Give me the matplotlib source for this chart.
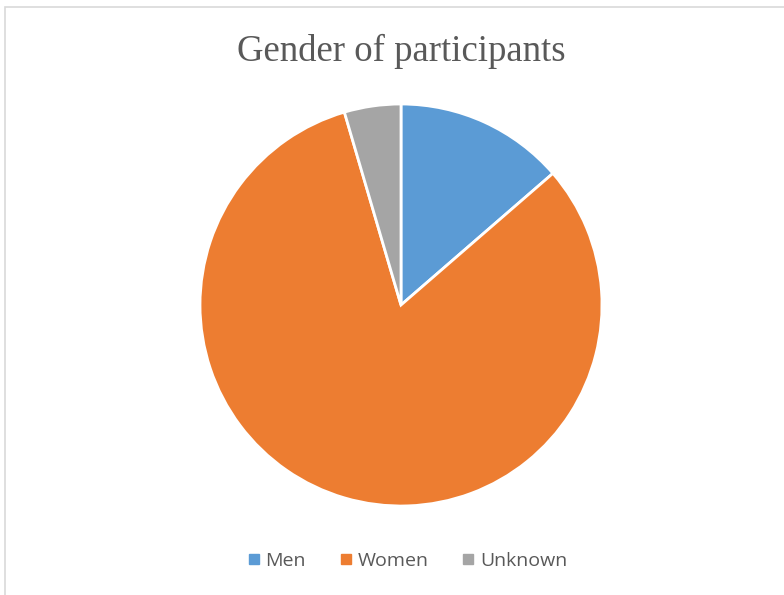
import matplotlib.pyplot as plt
from matplotlib.lines import Line2D
from matplotlib.patches import Rectangle

labels = ['Men', 'Women', 'Unknown']
counts = [12, 72, 4]
colors = ['#5B9BD5', '#ED7D31', '#A5A5A5']

fig = plt.figure(figsize=(7.84, 5.95), dpi=100)

# chart area border (thin grey frame, cut off at right/bottom)
fig.patches.append(Rectangle((5 / 784, -0.01), 1.0, 1 - 7 / 595 + 0.01,
                             transform=fig.transFigure, fill=False,
                             edgecolor='#D9D9D9', linewidth=1.2))

ax = fig.add_axes([200 / 784, 1 - 506 / 595, 402 / 784, 402 / 595])
ax.pie(counts, colors=colors, startangle=90, counterclock=False, radius=1,
       wedgeprops={'edgecolor': 'white', 'linewidth': 2})
ax.set_xlim(-1, 1)
ax.set_ylim(-1, 1)
ax.set_aspect('equal')
ax.axis('off')

fig.text(401 / 784, 1 - 51 / 595, 'Gender of participants', ha='center', va='center',
         fontsize=26.5, family='Liberation Serif', color='#595959')

handles = [Line2D([], [], marker='s', linestyle='none', markersize=7, color=c) for c in colors]
fig.legend(handles, labels, loc='center', bbox_to_anchor=(406 / 784, 1 - 561 / 595), ncol=3,
           frameon=False, prop={'family': 'Open Sans', 'size': 14}, labelcolor='#595959',
           handletextpad=0.15, columnspacing=1.6, handlelength=0.9)

fig.savefig('out.png', dpi=100)
